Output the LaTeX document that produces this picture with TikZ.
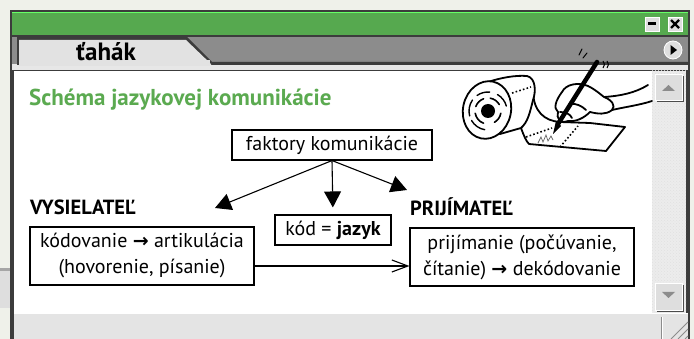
\documentclass[tikz,border=0pt]{standalone}
\usepackage{fontspec}
\setmainfont{PT Sans}
\newfontfamily\arrowfont{DejaVu Sans}
\newcommand{\rarr}{{\arrowfont\bfseries\fontsize{19}{19}\selectfont →}}
\usetikzlibrary{arrows.meta,patterns}
\definecolor{bgc}{HTML}{EFF1EA}
\definecolor{barGreen}{HTML}{56A94F}
\definecolor{headGreen}{HTML}{5BAA50}
\definecolor{tabBar}{HTML}{8C8C8C}
\definecolor{tabFace}{HTML}{E2E2E2}
\definecolor{frameDark}{HTML}{3C3C3C}
\definecolor{statusGray}{HTML}{E4E4E4}
\definecolor{trackGray}{HTML}{ECECEC}
\definecolor{btnGray}{HTML}{DEDEDE}
\definecolor{stripGray}{HTML}{E7E7E7}

\tikzset{
  boxnode/.style={draw=black, line width=1.1pt, fill=white, inner sep=0pt, align=center,
                  font=\fontsize{20}{26}\selectfont},
  headnode/.style={anchor=west, inner sep=0pt, font=\fontsize{20.5}{22}\selectfont\bfseries},
  solidtip/.style={-{Triangle[length=16pt,width=17pt]}, line width=1.1pt},
  opentip/.style={-{Straight Barb[length=16pt,width=12pt,line width=1.1pt]}, line width=1.1pt},
  ink/.style={line width=1.8pt, line join=round, line cap=round},
  winbtn/.style={fill=btnGray, draw=white, line width=0.6pt},
}

\begin{document}
\begin{tikzpicture}[x=1pt,y=-1pt]
% page background and fixed frame
\fill[bgc] (0,0) rectangle (694,339);
\useasboundingbox (0,0) rectangle (694,339);

% a window lying behind, on the left
\fill[black!35] (0,268) rectangle (10,271);
\fill[black!13] (0,271) rectangle (10,308);

% ---------- window frame ----------
\fill[frameDark] (10,10) rectangle (690,339);
\fill[barGreen] (12,12) rectangle (688,35);
\draw[green!60!white, line width=0.8pt] (12,12.5) -- (688,12.5);
\fill[tabBar] (12,37) rectangle (688,64);
\fill[stripGray] (12,64) rectangle (688,70);

% tab with slanted edge
\fill[frameDark] (17,64) -- (17,37) -- (187,37) -- (212,62) -- (688,62) -- (688,65) -- (17,65) -- cycle;
\fill[tabFace] (19,66) -- (19,40) -- (186,40) -- (211,64) -- (211,66) -- cycle;
\fill[stripGray] (12,65) rectangle (688,70);
\fill[tabFace] (19,60) rectangle (210,66);
\node[inner sep=0pt, font=\fontsize{25}{27}\selectfont\bfseries] (tabtitle) at (106,52) {ťahák};

% window buttons
\path[winbtn] (645,17) rectangle (659,31);
\fill[black] (648,22.5) rectangle (656,25.5);
\path[winbtn] (668,17) rectangle (682,31);
\draw[black, line width=2.2pt] (671,20) -- (679,28) (679,20) -- (671,28);
\path[fill=btnGray, draw=white, line width=0.8pt] (673,50) circle (9);
\fill[black] (670.5,45) -- (677,50) -- (670.5,55) -- cycle;

% content area
\fill[white] (13,70) rectangle (652,313);
\draw[frameDark, line width=1pt] (13,339) -- (13,70.5) -- (652,70.5);

% scrollbar
\fill[trackGray] (652,71) rectangle (686,313);
\fill[pattern=crosshatch dots, pattern color=black!12] (652,71) rectangle (686,313);
\fill[black!70] (657,76) rectangle (684,102);
\path[winbtn] (655,74) rectangle (682,100);
\fill[black!45] (662,91) -- (668.5,85) -- (675,91) -- cycle;
\fill[black!70] (657,285) rectangle (684,312);
\path[winbtn] (655,283) rectangle (682,310);
\fill[black!45] (662,292) -- (668.5,298) -- (675,292) -- cycle;

% status bar with size grip
\fill[statusGray] (14,313) rectangle (688,339);
\draw[white, line width=0.8pt] (14,313.5) -- (688,313.5);
\draw[black!45, line width=1pt] (661,317) -- (661,339);
\draw[white, line width=1pt] (662.5,317) -- (662.5,339);
\draw[black!45, line width=1pt] (688,322) -- (671,339) (688,329) -- (678,339) (688,336) -- (685,339);

% ---------- illustration: paper roll, hand and pen ----------
\begin{scope}
  % paper sheet coming off the roll
  \path[ink, fill=white, draw=black] (521,128) .. controls (524,136) and (526,141) .. (529,144)
        -- (606,151) -- (625,127) -- (590,123) -- (560,122)
        .. controls (545,121) and (533,112) .. (533,90) -- cycle;
  % roll body
  \path[ink, fill=white, draw=black] (488,82) .. controls (500,78) and (515,75) .. (527,76)
        .. controls (536,78) and (536,92) .. (533,100)
        .. controls (530,112) and (528,122) .. (521,128)
        .. controls (514,130) and (507,132) .. (500,134) -- cycle;
  % roll end
  \path[ink, fill=white, draw=black, rotate around={-12:(487,110)}] (487,110) ellipse (24 and 29);
  \fill[black] (488,111) circle (7);
  \draw[black, line width=1.6pt, line cap=round] (488,111) ++(110:13) arc (110:170:13);
  \draw[black, line width=1.6pt, line cap=round] (488,111) ++(200:13) arc (200:250:13);
  \draw[black, line width=1.6pt, line cap=round] (488,111) ++(280:13) arc (280:330:13);
  \draw[black, line width=1.6pt, line cap=round] (488,111) ++(10:13) arc (10:60:13);
  \draw[black, line width=1.4pt, line cap=round] (488,111) ++(100:19) arc (100:150:19);
  \draw[black, line width=1.4pt, line cap=round] (488,111) ++(165:19) arc (165:215:19);
  \draw[black, line width=1.4pt, line cap=round] (488,111) ++(235:19) arc (235:275:19);
  \draw[black, line width=1.4pt, line cap=round] (488,111) ++(300:19) arc (300:345:19);
  % perforations
  \draw[black, line width=1.6pt, dash pattern=on 1.6pt off 2.2pt] (512,93) -- (531,87);
  \draw[black, line width=1.6pt, dash pattern=on 1.6pt off 2.2pt] (526,137) -- (552,128);
  \draw[black, line width=1.6pt, dash pattern=on 1.6pt off 2.2pt] (560,147) -- (578,126);
  % handwriting scribble
  \draw[black!60, line width=0.7pt] (538,143) -- (541,137) -- (543,142) -- (546,135) -- (548,141) -- (551,136) -- (553,140);
  % arm lines
  \draw[ink] (604,97) .. controls (620,96) and (635,93) .. (648,85);
  \draw[ink] (612,110) .. controls (625,107) and (640,105) .. (652,101);
  % hand
  \path[ink, fill=white, draw=black] (562,92) .. controls (566,84) and (578,82) .. (588,86)
        .. controls (596,90) and (600,94) .. (604,97)
        .. controls (612,100) and (616,106) .. (612,110)
        .. controls (606,115) and (598,114) .. (590,112)
        .. controls (584,118) and (576,122) .. (568,121)
        .. controls (560,124) and (556,118) .. (558,112)
        .. controls (553,108) and (556,100) .. (562,92) -- cycle;
  \draw[ink] (570,104) .. controls (576,103) and (582,106) .. (586,110);
  \draw[ink] (560,112) .. controls (566,112) and (570,114) .. (572,118);
  % pen
  \draw[black, line width=4.5pt, line cap=round] (597,62) -- (558,124);
  \fill[black] (556,121) -- (561,126) -- (553,134) -- cycle;
  % motion marks
  \draw[black, line width=1pt, line cap=round] (579,55) -- (582,49) (583,58) -- (587,53);
  \draw[black, line width=1pt] (603,61) .. controls (605,63) and (605,66) .. (603,68);
  \draw[black, line width=1pt] (607,61) .. controls (609,63) and (609,66) .. (607,68);
\end{scope}

% ---------- diagram ----------
\node[anchor=west, inner sep=0pt, text=headGreen, font=\fontsize{23}{25}\selectfont\bfseries]
  (title) at (29,100) {Schéma jazykovej komunikácie};

\node[boxnode, minimum width=200pt, minimum height=30pt] (factors) at (332,145) {faktory komunikácie};
\node[boxnode, minimum width=116pt, minimum height=30pt] (code) at (333,230) {kód = \textbf{jazyk}};
\node[boxnode, minimum width=224pt, minimum height=58pt] (sender) at (142,256)
  {kódovanie \rarr{} artikulácia\\(hovorenie, písanie)};
\node[boxnode, minimum width=224pt, minimum height=58pt] (receiver) at (522,257)
  {prijímanie (počúvanie,\\čítanie) \rarr{} dekódovanie};

\node[headnode] (senderhead) at (30,207) {VYSIELATEĽ};
\node[headnode] (receiverhead) at (410,207) {PRIJÍMATEĽ};

\coordinate (lefttip) at (215,208);
\coordinate (righttip) at (407,190);

\draw[solidtip] (factors.south) -- (lefttip);
\draw[solidtip, shorten >=7pt] (factors.south) -- (code.north);
\draw[solidtip] (factors.south) -- (righttip);
\draw[opentip] (sender.east |- 0,266) -- (receiver.west |- 0,266);
\end{tikzpicture}
\end{document}
